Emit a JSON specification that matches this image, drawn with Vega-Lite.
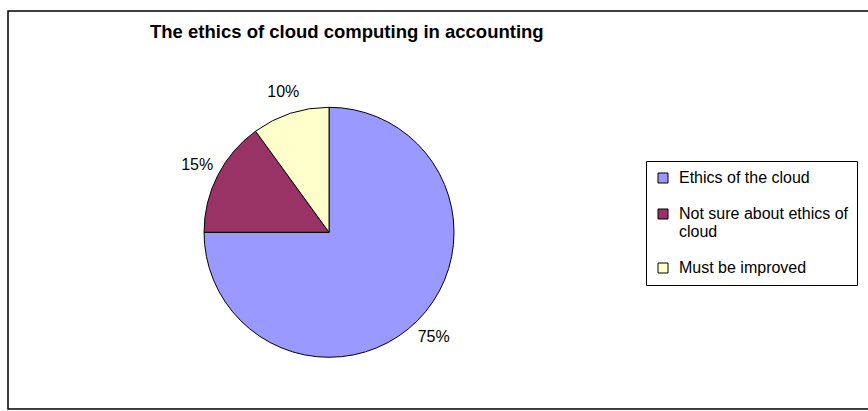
{
  "$schema": "https://vega.github.io/schema/vega-lite/v6.json",
  "width": 868,
  "height": 411,
  "autosize": {"type": "fit", "contains": "padding"},
  "padding": {"left": 8, "top": 11, "right": -3, "bottom": 2},
  "background": "white",
  "view": {"stroke": "black", "strokeWidth": 1.5, "fill": "white"},
  "config": {
    "view": {"stroke": "black", "strokeWidth": 1.5},
    "font": "Liberation Sans"
  },
  "title": {
    "text": "The ethics of cloud computing in accounting",
    "anchor": "start",
    "frame": "group",
    "dx": 142,
    "dy": 10,
    "offset": -35,
    "baseline": "alphabetic",
    "font": "Liberation Sans",
    "fontSize": 18.5,
    "fontWeight": "bold",
    "color": "black"
  },
  "data": {
    "values": [
      {"category": "Ethics of the cloud", "value": 75, "label": "75%", "order": 1},
      {"category": "Not sure about ethics of cloud", "value": 15, "label": "15%", "order": 2},
      {"category": "Must be improved", "value": 10, "label": "10%", "order": 3}
    ]
  },
  "encoding": {
    "theta": {"field": "value", "type": "quantitative", "stack": true},
    "order": {"field": "order", "type": "quantitative"}
  },
  "layer": [
    {
      "mark": {
        "type": "arc",
        "outerRadius": 125,
        "stroke": "black",
        "strokeWidth": 1,
        "x": {"expr": "width * 0.372"},
        "y": {"expr": "height * 0.556"}
      },
      "encoding": {
        "color": {
          "field": "category",
          "type": "nominal",
          "scale": {
            "domain": ["Ethics of the cloud", "Not sure about ethics of cloud", "Must be improved"],
            "range": ["#9999FF", "#993366", "#FFFFCC"]
          },
          "legend": {
            "title": null,
            "orient": "none",
            "legendX": 638,
            "legendY": 150,
            "symbolType": "square",
            "symbolSize": 100,
            "symbolStrokeColor": "black",
            "symbolStrokeWidth": 1,
            "labelFont": "Liberation Sans",
            "labelFontSize": 16,
            "labelColor": "black",
            "labelLimit": 400,
            "labelOffset": 8,
            "labelExpr": "datum.label == 'Not sure about ethics of cloud' ? ['Not sure about ethics of', 'cloud'] : datum.label",
            "strokeColor": "black",
            "fillColor": "white",
            "padding": 9,
            "rowPadding": 20
          }
        }
      }
    },
    {
      "mark": {
        "type": "text",
        "radius": 148,
        "font": "Liberation Sans",
        "fontSize": 16,
        "color": "black",
        "x": {"expr": "width * 0.372"},
        "y": {"expr": "height * 0.556"}
      },
      "encoding": {
        "text": {"field": "label", "type": "nominal"}
      }
    }
  ]
}
